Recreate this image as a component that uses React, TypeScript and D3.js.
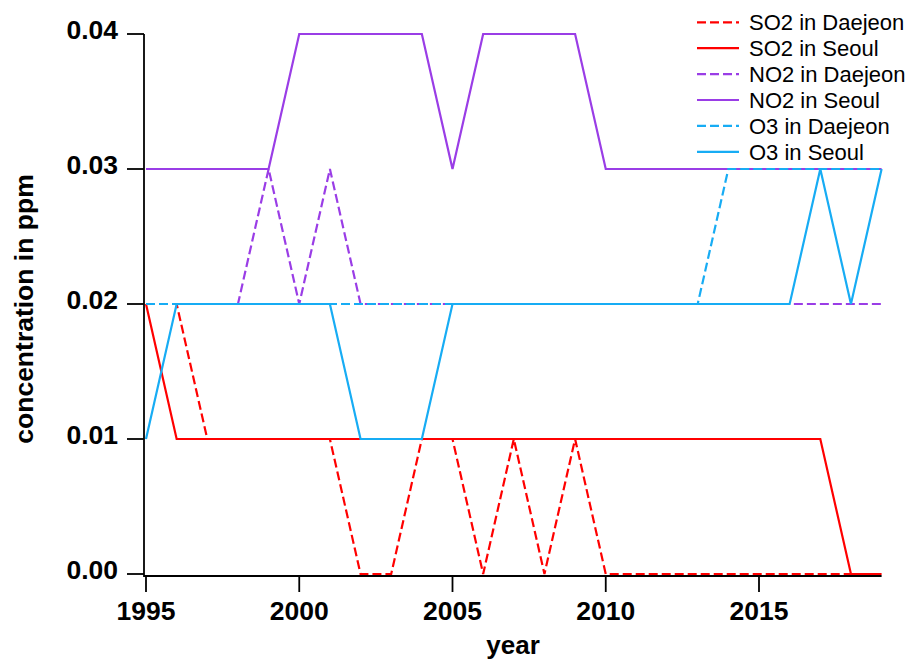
import React from "react";
import * as d3 from "d3";

const years: number[] = d3.range(1995, 2020);

const so2Daejeon = [0.02, 0.02, 0.01, 0.01, 0.01, 0.01, 0.01, 0.0, 0.0, 0.01, 0.01, 0.0, 0.01, 0.0, 0.01, 0.0, 0.0, 0.0, 0.0, 0.0, 0.0, 0.0, 0.0, 0.0, 0.0];
const so2Seoul = [0.02, 0.01, 0.01, 0.01, 0.01, 0.01, 0.01, 0.01, 0.01, 0.01, 0.01, 0.01, 0.01, 0.01, 0.01, 0.01, 0.01, 0.01, 0.01, 0.01, 0.01, 0.01, 0.01, 0.0, 0.0];
const no2Daejeon = [0.02, 0.02, 0.02, 0.02, 0.03, 0.02, 0.03, 0.02, 0.02, 0.02, 0.02, 0.02, 0.02, 0.02, 0.02, 0.02, 0.02, 0.02, 0.02, 0.02, 0.02, 0.02, 0.02, 0.02, 0.02];
const no2Seoul = [0.03, 0.03, 0.03, 0.03, 0.03, 0.04, 0.04, 0.04, 0.04, 0.04, 0.03, 0.04, 0.04, 0.04, 0.04, 0.03, 0.03, 0.03, 0.03, 0.03, 0.03, 0.03, 0.03, 0.03, 0.03];
const o3Daejeon = [0.02, 0.02, 0.02, 0.02, 0.02, 0.02, 0.02, 0.02, 0.02, 0.02, 0.02, 0.02, 0.02, 0.02, 0.02, 0.02, 0.02, 0.02, 0.02, 0.03, 0.03, 0.03, 0.03, 0.03, 0.03];
const o3Seoul = [0.01, 0.02, 0.02, 0.02, 0.02, 0.02, 0.02, 0.01, 0.01, 0.01, 0.02, 0.02, 0.02, 0.02, 0.02, 0.02, 0.02, 0.02, 0.02, 0.02, 0.02, 0.02, 0.03, 0.02, 0.03];

const xTicks = [1995, 2000, 2005, 2010, 2015];
const yTicks = [0, 0.01, 0.02, 0.03, 0.04];

const RED = "#ff0000";
const PURPLE = "#9a3de6";
const BLUE = "#17acf4";

const series = [
  { name: "SO2 in Daejeon", values: so2Daejeon, color: RED, dashed: true },
  { name: "SO2 in Seoul", values: so2Seoul, color: RED, dashed: false },
  { name: "NO2 in Daejeon", values: no2Daejeon, color: PURPLE, dashed: true },
  { name: "NO2 in Seoul", values: no2Seoul, color: PURPLE, dashed: false },
  { name: "O3 in Daejeon", values: o3Daejeon, color: BLUE, dashed: true },
  { name: "O3 in Seoul", values: o3Seoul, color: BLUE, dashed: false },
];

export default function App() {
  const W = 919;
  const H = 663;
  const x = d3.scaleLinear().domain([1995, 2019]).range([146, 881.6]);
  const y = d3.scaleLinear().domain([0, 0.04]).range([574, 34]);
  const line = d3
    .line<number>()
    .x((_, i) => x(years[i]))
    .y((v) => y(v));

  const axisX = 144;
  const axisY = 576;
  const font = "Liberation Sans, Arial, Helvetica, sans-serif";
  const dash = "9,4";

  return (
    <svg
      width={W}
      height={H}
      style={{ position: "absolute", left: 0, top: 0, background: "#fff" }}
      fontFamily={font}
    >
      <rect width={W} height={H} fill="#fff" />
      {series.map((s) => (
        <path
          key={s.name}
          d={line(s.values) || ""}
          fill="none"
          stroke={s.color}
          strokeWidth={2.2}
          strokeDasharray={s.dashed ? dash : undefined}
          strokeLinejoin="miter"
        />
      ))}
      {/* axes */}
      <line x1={axisX} x2={axisX} y1={y(0.04)} y2={axisY + 1} stroke="#000" strokeWidth={1.8} />
      <line x1={axisX} x2={x(2019)} y1={axisY} y2={axisY} stroke="#000" strokeWidth={1.8} />
      {yTicks.map((t) => (
        <g key={"y" + t}>
          <line x1={127} x2={axisX} y1={y(t)} y2={y(t)} stroke="#000" strokeWidth={1.8} />
          <text x={118} y={y(t) + 4.5} textAnchor="end" fontSize={26.5} fontWeight="bold">
            {d3.format(".2f")(t)}
          </text>
        </g>
      ))}
      {xTicks.map((t) => (
        <g key={"x" + t}>
          <line x1={x(t)} x2={x(t)} y1={axisY} y2={axisY + 16} stroke="#000" strokeWidth={1.8} />
          <text x={x(t)} y={620} textAnchor="middle" fontSize={26.5} fontWeight="bold">
            {t}
          </text>
        </g>
      ))}
      <text x={513} y={654} textAnchor="middle" fontSize={26} fontWeight="bold">
        year
      </text>
      <text
        transform={`translate(33, 309) rotate(-90)`}
        textAnchor="middle"
        fontSize={26.5}
        fontWeight="bold"
      >
        concentration in ppm
      </text>
      {/* legend */}
      {series.map((s, i) => {
        const ly = 22.3 + i * 25.9;
        return (
          <g key={"l" + s.name}>
            <line
              x1={697}
              x2={739}
              y1={ly}
              y2={ly}
              stroke={s.color}
              strokeWidth={2.2}
              strokeDasharray={s.dashed ? dash : undefined}
            />
            <text x={749} y={ly + 7.8} fontSize={22} fill="#000">
              {s.name}
            </text>
          </g>
        );
      })}
    </svg>
  );
}
